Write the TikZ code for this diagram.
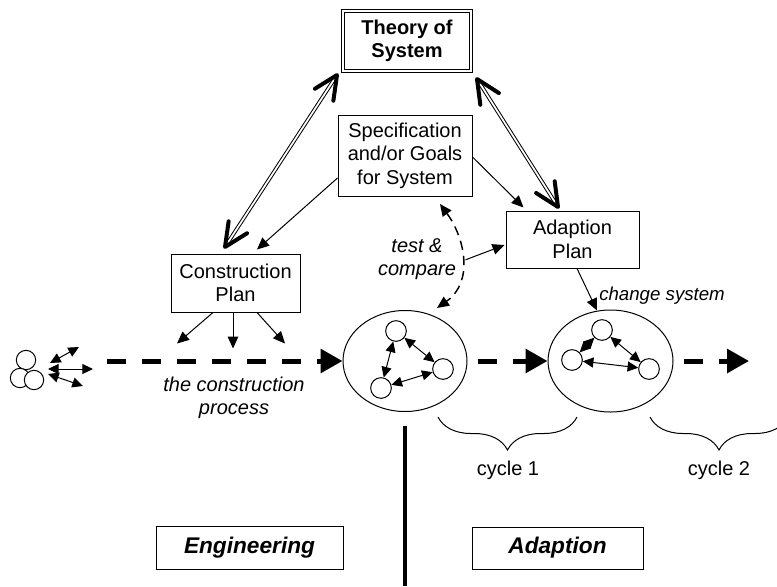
\documentclass[tikz,border=0pt]{standalone}
\usepackage{fontspec}
\setmainfont{Liberation Sans}
\usetikzlibrary{arrows.meta,calc,shapes.geometric,decorations.pathreplacing}

\begin{document}
\begin{tikzpicture}[x=0.75pt,y=-0.75pt,
  txt/.style={font=\fontsize{15}{17.5}\selectfont, align=center},
  box/.style={txt, draw, line width=0.75pt, inner sep=0pt},
  lab/.style={font=\fontsize{15}{17.5}\selectfont\itshape, align=center},
  tag/.style={box, font=\fontsize{17}{20}\selectfont\bfseries\itshape},
  sysbox/.style={draw, ellipse, line width=0.75pt, inner sep=0pt},
  part/.style={draw, circle, fill=white, line width=0.75pt, minimum size=15.5pt, inner sep=0pt},
  link/.style={line width=0.75pt, {Triangle[length=8pt,width=7.5pt]}-{Triangle[length=8pt,width=7.5pt]}},
  arr/.style={line width=0.75pt, -{Triangle[length=9pt,width=8pt]}},
  flow/.style={line width=3.75pt, dash pattern=on 14.25pt off 12pt, -{Triangle[length=16.5pt,width=17.5pt]}},
  dbl/.style={double, double distance=1.3pt, line width=0.75pt},
  vhead/.style={line width=3pt, line cap=round, line join=round},
  bracket/.style={line width=0.75pt, decorate, decoration={brace, mirror, amplitude=24.75pt}}
]
\useasboundingbox (0,0) rectangle (777,586);

% boxes
\node[txt, inner sep=0pt, font=\fontsize{15}{17.5}\selectfont\bfseries,
      minimum width=97.5pt, minimum height=46.5pt] (theory) at (407,41) {Theory of\\System};
\draw[line width=0.7pt] (theory.south west) rectangle (theory.north east);
\draw[line width=0.7pt] ($(theory.south west)+(3,-3)$) rectangle ($(theory.north east)+(-3,3)$);
\node[box, minimum width=100.5pt, minimum height=60.75pt] (spec) at (405,155.5) {Specification\\and/or Goals\\for System};
\node[box, minimum width=96.75pt, minimum height=43.5pt] (cplan) at (235.5,283) {Construction\\Plan};
\node[box, minimum width=99.75pt, minimum height=42.75pt] (aplan) at (572.5,239.5) {Adaption\\Plan};
\node[tag, minimum width=140.25pt, minimum height=32.25pt] (eng) at (249.5,547.5) {Engineering};
\node[tag, minimum width=128.25pt, minimum height=31.5pt] (adp) at (557.5,548) {Adaption};

% systems
\node[sysbox, minimum width=93pt, minimum height=75.75pt] (sys1) at (405,361) {};
\node[sysbox, minimum width=93.75pt, minimum height=76.5pt] (sys2) at (610.5,361) {};

\node[part] (a1) at (396,331) {};
\node[part] (a2) at (443,369) {};
\node[part] (a3) at (381,388) {};
\draw[link] (a1) -- (a3);
\draw[link] (a1) -- (a2);
\draw[link] (a3) -- (a2);

\node[part] (b1) at (602,330) {};
\node[part] (b2) at (572,360) {};
\node[part] (b3) at (649,369) {};
\draw[link] (b1) -- (b2);
\draw[link] (b1) -- (b3);
\draw[link] (b2) -- (b3);

% loose parts before construction
\node[part, minimum size=14.5pt] (s1) at (26,360) {};
\node[part, minimum size=14.5pt] (s2) at (20,378) {};
\node[part, minimum size=14.5pt] (s3) at (34,380) {};
\coordinate (h1) at (48,369);
\coordinate (h2) at (93,369);
\coordinate (g1) at (48,374);
\coordinate (g2) at (83,386);
\coordinate (u1) at (50,363);
\coordinate (u2) at (79,347);
\draw[link] (h1) -- (h2);
\draw[link] (g1) -- (g2);
\draw[link] (u1) -- (u2);

% process flow
\coordinate (src) at (107,361);
\coordinate (sink) at (749,361);
\draw[flow] (src) -- (sys1.west);
\draw[flow, shorten <=7.5pt] (sys1) -- (sys2);
\draw[flow, shorten <=7.5pt] (sys2) -- (sink);

% theory links
\coordinate (t1) at (337,75);
\coordinate (c1) at (225,247);
\coordinate (t2) at (477,79);
\coordinate (d1) at (558,207);
\draw[dbl] (t1) -- (c1);
\draw[dbl] (t2) -- (d1);
\draw[vhead] ($(t1)!19.5pt!25:(c1)$) -- (t1) -- ($(t1)!19.5pt!-25:(c1)$);
\draw[vhead] ($(c1)!19.5pt!25:(t1)$) -- (c1) -- ($(c1)!19.5pt!-25:(t1)$);
\draw[vhead] ($(t2)!19.5pt!25:(d1)$) -- (t2) -- ($(t2)!19.5pt!-25:(d1)$);
\draw[vhead] ($(d1)!19.5pt!25:(t2)$) -- (d1) -- ($(d1)!19.5pt!-25:(t2)$);

% specification links
\draw[arr] ($(spec.west)+(0,22.5)$) -- ($(cplan.north)+(21.5,-4)$);
\draw[arr] ($(spec.east)+(0,1.5)$) -- ($(aplan.north west)+(18,-3)$);

% construction plan fan-out
\draw[arr] ($(cplan.south)+(-22.5,0)$) -- ($(cplan.south)+(-58.5,31)$);
\draw[arr] ($(cplan.south)+(-2.5,0)$) -- ($(cplan.south)+(-2.5,36)$);
\draw[arr] ($(cplan.south)+(21.5,0)$) -- ($(cplan.south)+(49.5,31)$);

% adaption plan changes the system
\draw[arr] ($(aplan.south)+(4.5,0)$) -- ($(aplan.south)+(24.5,42)$);

% test and compare
\coordinate (tcA) at (440,204);
\coordinate (tcB) at (437,308);
\draw[line width=1.1pt, dash pattern=on 7pt off 4.5pt,
      {Triangle[length=9pt,width=8pt]}-{Triangle[length=9pt,width=8pt]}]
  (tcA) .. controls (465,238) and (474,282) .. (tcB) coordinate[pos=0.52] (tcM);
\draw[arr, shorten <=3pt] (tcM) -- ($(aplan.west)+(-1,5.5)$);

% labels
\node[lab] (tc) at (417,259) {test \&\\compare};
\node[lab] (cp) at (234,398) {the construction\\process};
\node[lab, anchor=west, inner sep=0pt, font=\fontsize{14}{17}\selectfont\itshape] (cs) at (599,296) {change system};

% cycles
\coordinate (k1) at (438,417);
\coordinate (k2) at (577,417);
\coordinate (k3) at (650,417);
\coordinate (k4) at (788,417);
\draw[bracket] (k1) -- (k2);
\draw[bracket] (k3) -- (k4);
\node[txt] (cy1) at (508,470) {cycle 1};
\node[txt] (cy2) at (719,470) {cycle 2};

% divider
\coordinate (v1) at (405,426);
\coordinate (v2) at (405,586);
\draw[line width=3.4pt] (v1) -- (v2);
\end{tikzpicture}
\end{document}
